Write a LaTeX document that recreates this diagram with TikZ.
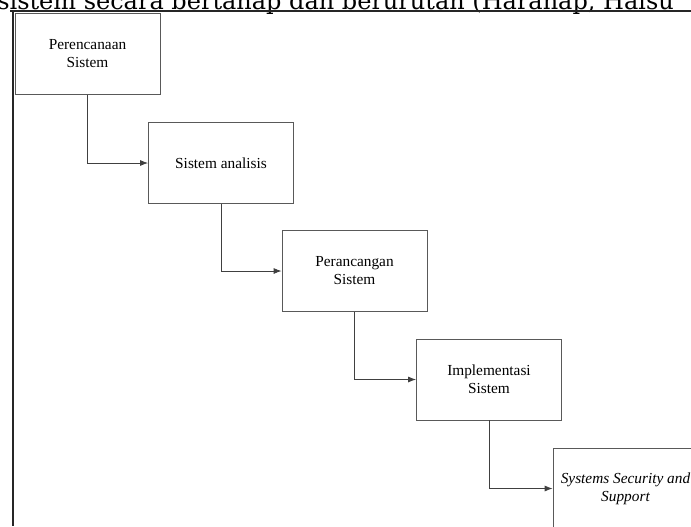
\documentclass[tikz,border=0pt]{standalone}
\usepackage{fontspec}
\setmainfont{Liberation Serif}
\newfontfamily\pagefont{DejaVu Serif}
\usetikzlibrary{arrows.meta, positioning}

\begin{document}
\begin{tikzpicture}[x=0.75pt, y=-0.75pt,
  stage/.style={rectangle, draw=black!65, line width=0.6pt, fill=white,
    minimum width=108.75pt, minimum height=60.75pt,
    font=\fontsize{11.5}{13.5}\selectfont, align=center},
  arrow/.style={-{Latex[length=6pt,width=4.5pt]}, draw=black!75, line width=0.6pt},
  frame/.style={line width=1.3pt, black!85}
]
  \useasboundingbox (0,0) rectangle (691,526);
  \clip (0,0) rectangle (691,526);

  % page text cut off above the figure
  \node[anchor=base west, inner sep=0pt, font=\pagefont\fontsize{18}{22}\selectfont] (pagetext) at (-3,9)
    {sistem secara bertahap dan berurutan (Harahap, Halsu};

  % figure frame
  \draw[frame] (10,11) -- (691,11);
  \draw[frame] (13,11) -- (13,526);

  \node[stage] (plan) at (87.5, 54) {Perencanaan\\Sistem};
  \node[stage] (analysis) at (221, 163) {Sistem analisis};
  \node[stage] (design) at (354.5, 271) {Perancangan\\Sistem};
  \node[stage] (impl) at (489, 379.5) {Implementasi\\Sistem};
  \node[stage, font=\fontsize{11.5}{13.5}\selectfont\itshape] (support) at (625.5, 488.5)
    {Systems Security and\\Support};

  \draw[arrow] (plan.south) |- (analysis.west);
  \draw[arrow] (analysis.south) |- (design.west);
  \draw[arrow] (design.south) |- (impl.west);
  \draw[arrow] (impl.south) |- (support.west);
\end{tikzpicture}
\end{document}
